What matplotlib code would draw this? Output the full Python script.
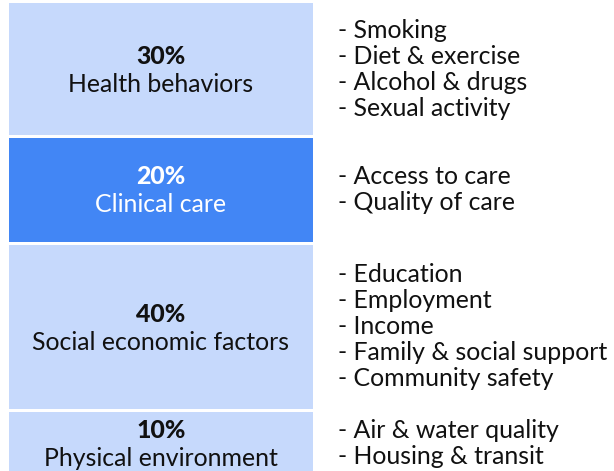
import matplotlib
matplotlib.use("Agg")
import matplotlib.pyplot as plt

# ---- data ----
categories = ["Health behaviors", "Clinical care", "Social economic factors", "Physical environment"]
shares = [30, 20, 40, 10]
details = [
    ["Smoking", "Diet & exercise", "Alcohol & drugs", "Sexual activity"],
    ["Access to care", "Quality of care"],
    ["Education", "Employment", "Income", "Family & social support", "Community safety"],
    ["Air & water quality", "Housing & transit"],
]
highlight = [False, True, False, False]

# ---- layout (pixels) ----
W, H = 614, 471
seg_heights = [132, 104, 164, 63]
gap = 3
top0 = 3
bar_left, bar_right = 9, 313
list_x = 338
line_h = 26

light = "#c6d9fc"
dark = "#4286f5"
FONT = "Lato"

fig = plt.figure(figsize=(W / 100, H / 100), dpi=100)
ax = fig.add_axes([0, 0, 1, 1])
ax.set_xlim(0, W)
ax.set_ylim(H, 0)
ax.axis("off")

# font size fitted to the reference width of the longest bullet line
probe = ax.text(0, 0, "- Family & social support", fontsize=10, family=FONT)
fig.canvas.draw()
w10 = probe.get_window_extent().width
probe.remove()
fs = 10 * 270 / w10

bottoms = []
y = top0
for h in seg_heights:
    bottoms.append(y)
    y += h + gap

cx = (bar_left + bar_right) / 2
ax.bar([cx] * 4, seg_heights, bottom=bottoms, width=bar_right - bar_left,
       color=[dark if hl else light for hl in highlight], linewidth=0)

for cat, sh, det, hl, b, h in zip(categories, shares, details, highlight, bottoms, seg_heights):
    c = b + h / 2
    tc = "white" if hl else "#111111"
    ax.text(cx, c - 15, f"{sh}%", ha="center", va="center_baseline", fontsize=fs,
            fontweight="black", color=tc, family=FONT)
    ax.text(cx, c + 13, cat, ha="center", va="center_baseline", fontsize=fs,
            color=tc, family=FONT)
    n = len(det)
    start = c - 2 - (n - 1) * line_h / 2
    for i, d in enumerate(det):
        ax.text(list_x, start + i * line_h, f"- {d}", ha="left", va="center_baseline",
                fontsize=fs, color="#111111", family=FONT)

fig.savefig("out.png", dpi=100)
